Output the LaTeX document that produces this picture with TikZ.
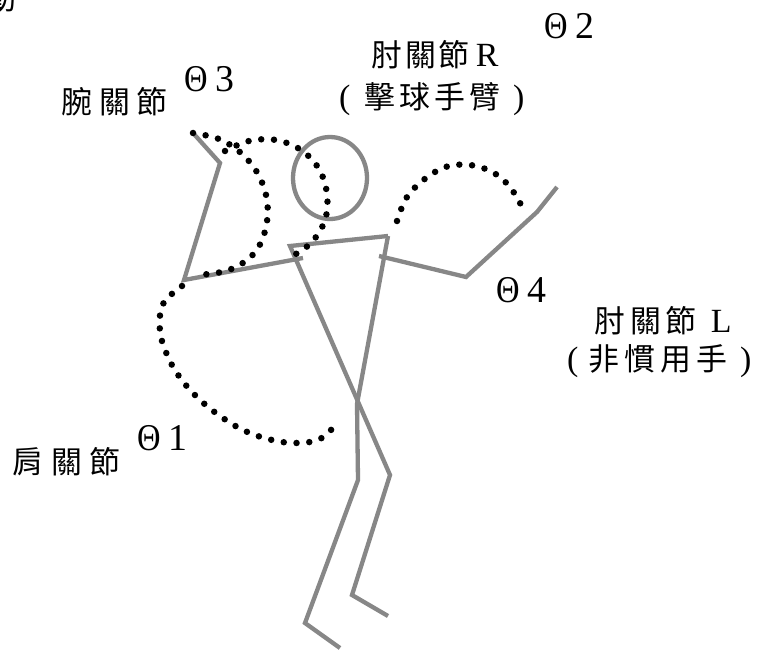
\documentclass[tikz,border=0pt]{standalone}
\usepackage{fontspec}
\newfontfamily\cjk{Noto Sans CJK TC}
\newfontfamily\rom{Liberation Serif}
\newfontfamily\thetafont[FakeStretch=0.86]{Liberation Serif}
\newcommand\gp[1]{\hspace{#1bp}}
\definecolor{limbgray}{HTML}{878787}
\tikzset{
  limb/.style={draw=limbgray, line width=4.3bp, line join=miter},
  dotarc/.style={draw=black, line width=6.5bp, line cap=round, dash pattern=on 0bp off 12.8bp},
  cjklabel/.style={inner sep=0pt, anchor=base west, font=\cjk\fontsize{31}{33}\selectfont},
  anglelabel/.style={inner sep=0pt, anchor=base west, font=\rom\fontsize{38}{40}\selectfont},
}
\newcommand\latin[1]{{\rom\fontsize{34}{36}\selectfont #1}}
\newcommand\ang[1]{{\thetafont Θ}\hspace{8bp}#1}
\begin{document}
\begin{tikzpicture}[x=1bp,y=-1bp]
\useasboundingbox[fill=white] (0,0) rectangle (765,650);

% joints of the stick figure
\coordinate (handR) at (193,133);
\coordinate (wristR) at (220,163);
\coordinate (elbowR) at (184,280);
\coordinate (shoulderR) at (303,258);
\coordinate (neckL) at (290,246);
\coordinate (neckR) at (388,236);
\coordinate (hip) at (357,404);
\coordinate (crotch) at (358,480);
\coordinate (kneeR) at (390,475);
\coordinate (ankleR) at (352,595);
\coordinate (toeR) at (388,616);
\coordinate (ankleL) at (305,623);
\coordinate (toeL) at (340,648);
\coordinate (shoulderL) at (379,256);
\coordinate (elbowL) at (466,277);
\coordinate (wristL) at (537,212);
\coordinate (handL) at (557,187);

% limbs and head
\draw[limb] (handR) -- (wristR) -- (elbowR) -- (shoulderR);
\draw[limb] (neckR) -- (neckL) -- (kneeR) -- (ankleR) -- (toeR);
\draw[limb] (neckR) -- (hip) -- (crotch) -- (ankleL) -- (toeL);
\draw[limb] (shoulderL) -- (elbowL) -- (wristL) -- (handL);
\draw[limb] (330,178) ellipse [x radius=37, y radius=41];

% joint angle arcs
\draw[dotarc] plot[smooth, tension=0.6] coordinates {(182,286) (163,304) (160,331) (168,357) (181,379) (199,399) (220,416) (243,430) (268,439) (294,443) (320,439) (339,421)};
\draw[dotarc] plot[smooth, tension=0.6] coordinates {(193,133) (219,139) (241,153) (258,174) (267,200) (266,227) (256,251) (236,267) (211,274) (197,273)};
\draw[dotarc] plot[smooth, tension=0.6] coordinates {(225,151) (249,141) (276,140) (301,150) (319,169) (327,194) (325,220) (311,243) (289,258)};
\draw[dotarc] plot[smooth, tension=0.6] coordinates {(397,221) (407,197) (426,178) (449,166) (476,166) (500,177) (517,197) (522,209)};

% labels
\node[cjklabel] (top) at (-15,10) {動};
\node[cjklabel] (elbowRtxt) at (371,67) {肘\gp3關\gp3節\gp6\latin{R}};
\node[cjklabel] (elbowRsub) at (339,109) {\latin{(}\gp{14}擊\gp4球\gp4手\gp4臂\gp{13}\latin{)}};
\node[cjklabel] (wristtxt) at (61,114) {腕\gp7關\gp7節};
\node[cjklabel] (elbowLtxt) at (594,332) {肘\gp5關\gp5節\gp{14}\latin{L}};
\node[cjklabel] (elbowLsub) at (567,370) {\latin{(}\gp{10}非\gp5慣\gp5用\gp5手\gp{13}\latin{)}};
\node[cjklabel] (shouldertxt) at (12,473) {肩\gp8關\gp8節};
\node[anglelabel] (t2) at (544,39) {\ang{2}};
\node[anglelabel] (t3) at (184,92) {\ang{3}};
\node[anglelabel] (t4) at (496,302) {\ang{4}};
\node[anglelabel] (t1) at (137,450) {\ang{1}};
\end{tikzpicture}
\end{document}
